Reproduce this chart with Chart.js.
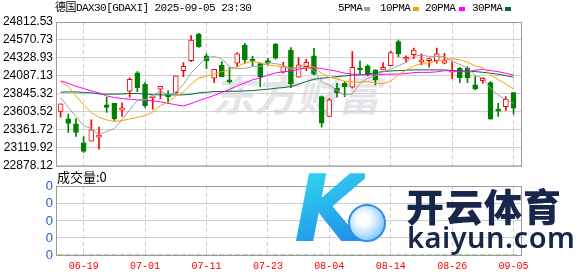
<!DOCTYPE html>
<html>
<head>
<meta charset="utf-8">
<script src="https://cdn.jsdelivr.net/npm/chart.js@4.4.1/dist/chart.umd.min.js"></script>
<style>
  html, body { margin: 0; padding: 0; background: #fff; }
  #wrap { position: relative; width: 578px; height: 276px; overflow: hidden; }
  canvas { position: absolute; left: 0; z-index: 1; }
  #kline { top: 0; }
  #vol { top: 176px; }
  .txt { position: absolute; white-space: nowrap; color: #000; z-index: 2; }
  .mono { font: 11px "Liberation Mono", "Noto Sans CJK SC", monospace; letter-spacing: -0.55px; line-height: 14px; }
  .sw { position: absolute; width: 6px; height: 4px; z-index: 2; }
  .vl { position: absolute; z-index: 5; width: 20px; text-align: right; color: #1f5fd0;
        font: 13px "Liberation Sans"; line-height: 14px; }
  #wm { position: absolute; left: 212px; top: 70px; z-index: 0; color: #e4e4e9;
        font: italic bold 42px "Noto Sans CJK SC"; line-height: 46px; }
  #logoK { position: absolute; left: 294px; top: 160px; z-index: 3; font: italic bold 92px "DejaVu Sans";
           line-height: 100px; background: linear-gradient(160deg, #35e0f2, #1b7fe6);
           -webkit-background-clip: text; background-clip: text; color: transparent; }
  #ball { position: absolute; left: 348px; top: 204px; width: 34px; height: 34px; border-radius: 50%; z-index: 3;
          border: 2px solid #2c8fe8; background: radial-gradient(circle at 40% 40%, #ffffff 20%, #a9d8ff 60%, #4aa6f2); }
  #kyCn { position: absolute; left: 406px; top: 183px; z-index: 3; color: #17264a;
          font: 900 38px "Noto Sans CJK SC"; line-height: 44px; letter-spacing: 1px; }
  #kyEn { position: absolute; left: 407px; top: 220px; z-index: 3; color: #17264a;
          font: 600 29px "Noto Sans"; line-height: 34px; letter-spacing: 0.5px; }
</style>
</head>
<body>
<div id="wrap">
  <div id="wm">东方财富</div>
  <canvas id="kline" width="578" height="176"></canvas>
  <canvas id="vol" width="578" height="100"></canvas>
  <div class="txt mono" style="left:55px;top:1px">德国DAX30[GDAXI] 2025-09-05 23:30</div>
  <div class="txt mono" style="left:338px;top:1px">5PMA</div>
  <div class="sw" style="left:364px;top:7px;background:#a0a0a0"></div>
  <div class="txt mono" style="left:380px;top:1px">10PMA</div>
  <div class="sw" style="left:413px;top:7px;background:#f5a300"></div>
  <div class="txt mono" style="left:425px;top:1px">20PMA</div>
  <div class="sw" style="left:459px;top:7px;background:#ff00ff"></div>
  <div class="txt mono" style="left:472px;top:1px">30PMA</div>
  <div class="sw" style="left:505px;top:7px;background:#006a35"></div>
  <div class="txt" style="left:57px;top:169px;font:13px 'Noto Sans CJK SC';line-height:16px">成交量:0</div>
  <div id="logoK">K</div>
  <div id="ball"></div>
  <div id="kyCn">开云体育</div>
  <div id="kyEn">kaiyun.com</div>
</div>
<script>
const dates = ['06-16','06-17','06-18','06-19','06-20','06-23','06-24','06-25','06-26','06-27',
  '06-30','07-01','07-02','07-03','07-04','07-07','07-08','07-09','07-10','07-11',
  '07-14','07-15','07-16','07-17','07-18','07-21','07-22','07-23','07-24','07-25',
  '07-28','07-29','07-30','07-31','08-01','08-04','08-05','08-06','08-07','08-08',
  '08-11','08-12','08-13','08-14','08-15','08-18','08-19','08-20','08-21','08-22',
  '08-25','08-26','08-27','08-28','08-29','09-01','09-02','09-03','09-04','09-05'];

const opens = [23608.0, 23509.5, 23442.4, 23187.1, 23209.5, 23263.2, 23697.6, 23720.0, 23625.9, 23881.2,
  24127.4, 23975.2, 23791.6, 23908.0, 23827.4, 23863.3, 24158.8, 24293.1, 24651.3, 24355.8,
  24055.8, 24230.4, 24020.0, 24257.3, 24503.6, 24297.6, 24252.8, 24279.7, 24517.0, 24136.4,
  24436.4, 24069.2, 24212.5, 24355.8, 23809.5, 23540.9, 23921.5, 23988.6, 23934.9, 24181.2,
  24221.5, 24167.7, 24167.7, 24226.0, 24548.3, 24311.0, 24373.7, 24275.2, 24293.1, 24293.1,
  24257.3, 24136.4, 24190.1, 24190.1, 23966.2, 24024.5, 23997.6, 23621.5, 23675.2, 23863.3];
const highs = [23711.0, 23572.2, 23509.5, 23272.2, 23496.1, 23397.6, 23800.6, 23720.0, 23724.5, 24060.3,
  24145.4, 23997.6, 23805.1, 23948.3, 23890.1, 24087.1, 24266.3, 24628.9, 24660.3, 24382.7,
  24176.7, 24279.7, 24203.6, 24400.6, 24526.0, 24351.3, 24252.8, 24324.5, 24526.0, 24270.7,
  24470.0, 24333.4, 24311.0, 24458.8, 23818.5, 23787.1, 23988.6, 24011.0, 24414.0, 24288.6,
  24234.9, 24167.7, 24266.3, 24423.0, 24570.7, 24355.8, 24463.3, 24382.7, 24324.5, 24463.3,
  24391.6, 24275.2, 24203.6, 24212.5, 24078.2, 24064.8, 24011.0, 23720.0, 23809.5, 23863.3];
const lows = [23531.9, 23325.9, 23272.2, 23057.3, 23209.5, 23102.1, 23594.6, 23487.1, 23540.9, 23800.6,
  23876.7, 23661.8, 23639.4, 23782.7, 23720.0, 23854.3, 24078.2, 24279.7, 24472.2, 24185.7,
  23997.6, 24078.2, 23988.6, 24212.5, 24257.3, 24221.5, 23943.9, 24234.9, 24311.0, 24123.0,
  23930.0, 24069.2, 24158.8, 24100.6, 23397.6, 23540.9, 23800.6, 23809.5, 23921.5, 24114.0,
  24091.6, 23966.2, 24167.7, 24226.0, 24346.9, 24270.7, 24320.0, 24239.4, 24203.6, 24257.3,
  24248.3, 24051.3, 23997.6, 23997.6, 23899.1, 23988.6, 23505.0, 23540.9, 23621.5, 23572.2];
const closes = [23711.0, 23446.8, 23325.9, 23070.7, 23361.8, 23285.6, 23661.8, 23509.5, 23657.3, 24042.4,
  23930.4, 23688.6, 23805.1, 23948.3, 23809.5, 24087.1, 24217.0, 24570.7, 24481.2, 24293.1,
  24176.7, 24078.2, 24006.5, 24382.7, 24306.6, 24284.2, 24078.2, 24266.3, 24324.5, 24212.5,
  23980.0, 24234.9, 24270.7, 24109.5, 23451.3, 23764.8, 23863.3, 23943.9, 24203.6, 24167.7,
  24100.6, 24033.4, 24203.6, 24400.6, 24382.7, 24324.5, 24436.4, 24288.6, 24315.5, 24382.7,
  24293.1, 24149.8, 24064.8, 24064.8, 23912.5, 24055.8, 23505.0, 23612.5, 23773.7, 23652.8];

const ma5 = [23796, 23666, 23541, 23416, 23380, 23298, 23341, 23378, 23495, 23631,
  23760, 23766, 23825, 23883, 23836, 23868, 23973, 24127, 24233, 24330,
  24348, 24320, 24207, 24187, 24190, 24212, 24212, 24264, 24252, 24233,
  24172, 24204, 24205, 24162, 24009, 23966, 23892, 23827, 23845, 23989,
  24056, 24090, 24142, 24181, 24224, 24269, 24350, 24367, 24350, 24350,
  24343, 24286, 24241, 24191, 24097, 24050, 23921, 23830, 23772, 23720];
const ma10 = [24011, 23944, 23818, 23698, 23595, 23532, 23496, 23474, 23487, 23507,
  23529, 23553, 23601, 23689, 23734, 23814, 23870, 23976, 24058, 24083,
  24108, 24147, 24167, 24210, 24260, 24280, 24266, 24235, 24220, 24212,
  24192, 24208, 24234, 24207, 24121, 24069, 24048, 24016, 24004, 23999,
  24011, 23991, 23984, 24013, 24106, 24162, 24220, 24254, 24265, 24287,
  24306, 24318, 24304, 24270, 24223, 24196, 24103, 24036, 23982, 23909];
const ma20 = [24020, 23989, 23948, 23917, 23886, 23859, 23818, 23796, 23783, 23774,
  23765, 23760, 23751, 23738, 23720, 23698, 23684, 23715, 23755, 23790,
  23825, 23865, 23905, 23953, 23993, 24035, 24060, 24097, 24127, 24142,
  24152, 24177, 24195, 24200, 24185, 24168, 24150, 24124, 24112, 24107,
  24103, 24101, 24109, 24110, 24114, 24117, 24133, 24135, 24135, 24142,
  24157, 24155, 24146, 24143, 24163, 24176, 24160, 24144, 24123, 24099];
const ma30 = [23868, 23872, 23872, 23863, 23859, 23845, 23841, 23841, 23845, 23850,
  23850, 23845, 23836, 23832, 23832, 23832, 23832, 23841, 23859, 23868,
  23877, 23877, 23881, 23881, 23886, 23890, 23899, 23908, 23921, 23930,
  23944, 23975, 24011, 24042, 24056, 24065, 24078, 24087, 24096, 24101,
  24110, 24132, 24145, 24154, 24159, 24163, 24168, 24168, 24168, 24168,
  24168, 24159, 24154, 24154, 24145, 24136, 24123, 24110, 24092, 24069];

const volumes = [0, 0, 0, 0, 0, 0, 0, 0, 0, 0, 0, 0, 0, 0, 0, 0, 0, 0, 0, 0,
  0, 0, 0, 0, 0, 0, 0, 0, 0, 0, 0, 0, 0, 0, 0, 0, 0, 0, 0, 0,
  0, 0, 0, 0, 0, 0, 0, 0, 0, 0, 0, 0, 0, 0, 0, 0, 0, 0, 0, 0];

const priceTicks = [22878.12, 23119.92, 23361.72, 23603.52, 23845.32, 24087.13, 24328.93, 24570.73, 24812.53];
const volTicks = [0, 1, 2, 3, 4];
const volTickLabels = ['0', '0', '0', '0', '0'];
const xTickLabels = ['06-19', '07-01', '07-11', '07-23', '08-04', '08-14', '08-26', '09-05'];

const UP = '#ff0000';
const DOWN = '#008000';

// box round the plot area
const frame = {
  id: 'frame',
  afterDatasetsDraw(chart) {
    const a = chart.chartArea;
    const ctx = chart.ctx;
    ctx.save();
    ctx.strokeStyle = '#9a9a9a';
    ctx.lineWidth = 1;
    ctx.strokeRect(a.left + 0.5, a.top + 0.5, a.right - a.left - 1, a.bottom - a.top);
    ctx.restore();
  }
};

function xAxis(showLabels) {
  return {
    type: 'linear',
    min: -0.6,
    max: 60.1,
    offset: false,
    afterBuildTicks: function(s) {
      s.ticks = xTickLabels.map(function(l) { return {value: dates.indexOf(l)}; });
    },
    afterFit: function(s) { s.height = showLabels ? 21 : 0; },
    ticks: {
      display: showLabels,
      autoSkip: false,
      maxRotation: 0,
      padding: 5,
      color: '#ff0000',
      font: {family: 'Liberation Mono', size: 10},
      callback: function(v) { return dates[v]; }
    },
    grid: {color: '#cccccc', drawTicks: false, offset: false},
    border: {display: false, dash: [4, 3]}
  };
}

const isUp = opens.map(function(o, i) { return closes[i] >= o; });

new Chart(document.getElementById('kline'), {
  type: 'bar',
  data: {
    datasets: [
      {type: 'line', data: ma5.map(function(v, i) { return {x: i, y: v}; }), borderColor: '#a0a0a0', borderWidth: 1, pointRadius: 0, order: 0},
      {type: 'line', data: ma10.map(function(v, i) { return {x: i, y: v}; }), borderColor: '#f5a300', borderWidth: 1, pointRadius: 0, order: 0},
      {type: 'line', data: ma20.map(function(v, i) { return {x: i, y: v}; }), borderColor: '#ff00ff', borderWidth: 1, pointRadius: 0, order: 0},
      {type: 'line', data: ma30.map(function(v, i) { return {x: i, y: v}; }), borderColor: '#006a35', borderWidth: 1, pointRadius: 0, order: 0},
      {
        data: opens.map(function(o, i) { return {x: i, y: [o, closes[i]]}; }),
        backgroundColor: isUp.map(function(u) { return u ? '#ffffff' : DOWN; }),
        borderColor: isUp.map(function(u) { return u ? UP : DOWN; }),
        borderWidth: 1,
        borderSkipped: false,
        barThickness: 5,
        minBarLength: 2,
        grouped: false,
        order: 1
      },
      {
        data: lows.map(function(l, i) { return {x: i, y: [l, highs[i]]}; }),
        backgroundColor: isUp.map(function(u) { return u ? UP : DOWN; }),
        borderWidth: 0,
        barThickness: 1,
        grouped: false,
        order: 2
      }
    ]
  },
  options: {
    responsive: false,
    animation: false,
    events: [],
    layout: {padding: {left: 0, right: 56, top: 22, bottom: 10}},
    plugins: {legend: {display: false}, tooltip: {enabled: false}},
    scales: {
      x: xAxis(false),
      y: {
        min: priceTicks[0],
        max: priceTicks[priceTicks.length - 1],
        afterBuildTicks: function(s) { s.ticks = priceTicks.map(function(v) { return {value: v}; }); },
        afterFit: function(s) { s.width = 56; },
        ticks: {
          autoSkip: false,
          padding: 3,
          color: '#000',
          font: {family: 'Liberation Sans', size: 12},
          callback: function(v) { return v.toFixed(2); }
        },
        grid: {color: '#d0d0d0', drawTicks: false},
        border: {display: false}
      }
    }
  },
  plugins: [frame]
});

const volCanvas = document.getElementById('vol');
const volChart = new Chart(volCanvas, {
  type: 'bar',
  data: {
    datasets: [{
      data: volumes.map(function(v, i) { return {x: i, y: v}; }),
      backgroundColor: DOWN,
      barThickness: 5
    }]
  },
  options: {
    responsive: false,
    animation: false,
    events: [],
    layout: {padding: {left: 0, right: 56, top: 10, bottom: 0}},
    plugins: {legend: {display: false}, tooltip: {enabled: false}},
    scales: {
      x: xAxis(true),
      y: {
        min: 0,
        max: 4,
        afterBuildTicks: function(s) { s.ticks = volTicks.map(function(v) { return {value: v}; }); },
        afterFit: function(s) { s.width = 56; },
        ticks: {display: false},
        grid: {color: '#d0d0d0', drawTicks: false},
        border: {display: false}
      }
    }
  },
  plugins: [frame]
});

// volume axis labels as page text, placed with the volume chart's y scale
const wrap = document.getElementById('wrap');
volTicks.forEach(function(v, i) {
  const d = document.createElement('div');
  d.className = 'vl';
  d.textContent = volTickLabels[i];
  d.style.left = (volChart.chartArea.left - 3 - 20) + 'px';
  d.style.top = (volCanvas.offsetTop + volChart.scales.y.getPixelForValue(v) - 7) + 'px';
  wrap.appendChild(d);
});
</script>
</body>
</html>
